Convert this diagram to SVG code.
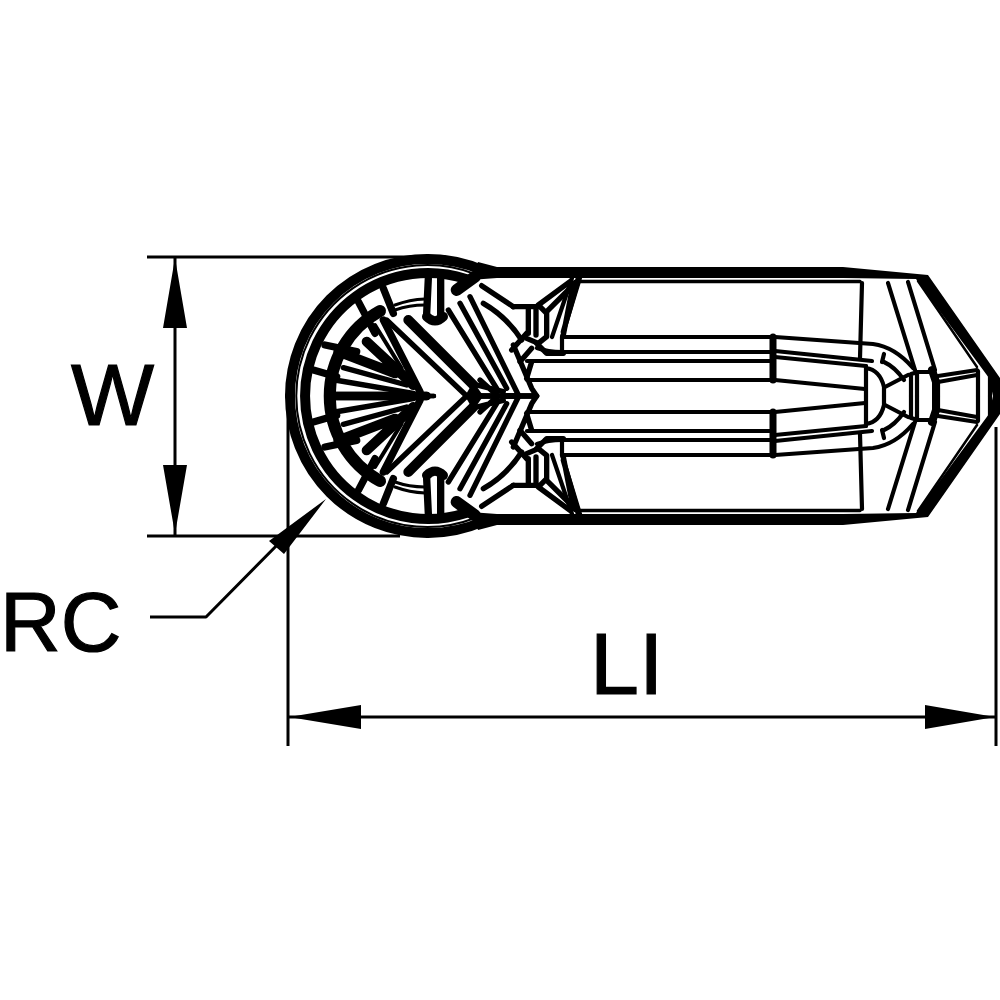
<svg xmlns="http://www.w3.org/2000/svg" xmlns:xlink="http://www.w3.org/1999/xlink" width="1000" height="1000" viewBox="0 0 1000 1000">
<style>
.k{fill:none;stroke:#000;stroke-linecap:round;stroke-linejoin:round}
.f{fill:#000;stroke:none}
text{font-family:"Liberation Sans",Arial,sans-serif;font-size:88px;fill:#000;stroke:#000;stroke-width:1.200px}
</style>
<rect width="1000" height="1000" fill="#fff"/>
<defs>
<g id="half">
 <path class="f" d="M478 262 L497 267 L843 267 L928 275 L1000 378 L1000 396 L993 396 L989 378 L916 279 L843 278 L497 278 L470 280Z"/>
 <g class="k" stroke-width="4.200">
  <path d="M575 281.500H860" stroke-width="3.500"/>
  <path d="M918 281L977 367" stroke-width="2.500"/>
  <path d="M862 283L860 358"/>
  <path d="M888 283L915 370M908 282L935 370"/>
  <path d="M580 278L562 337M572 278L552 337"/>
  <path d="M562 337H772M545 352H772M527 361H772M527 380H772"/>
  <path d="M537 348Q548 352 562 352" />
  <path d="M562 337V352"/>
  <path d="M775 337L873 344Q895 347 913 368"/>
  <path d="M775 351L872 361M775 357L866 366"/>
  <path d="M775 380L865 389"/>
  <path d="M866 368Q880 370 884 387V396M866 366V396"/>
  <path d="M884 362Q895 367 904 380" />
  <path d="M884 354L882 362"/>
  <path d="M885 387L908 375"/>
  <path d="M911 374L918 372H934L938 382V396M911 374V396M917 374V396"/>
  <path d="M938 376L977 370M938 382L977 375"/>
  <path d="M978 371V396M990 372V396"/>
 </g>
 <path class="k" stroke-width="8" d="M932 370L936 382V396"/>
 <path class="k" stroke-width="7" d="M773 337V380"/>
 <g transform="translate(280 245) scale(.33333)">
  <g class="k" stroke-width="16">
   <path d="M505 195L650 430M540 175L680 430M570 155L715 450"/>
   <path d="M610 175Q680 215 725 285M605 122L700 185"/>
   <path d="M700 185H780L800 205V275L775 295L740 280"/>
   <path d="M745 185V265M768 185V270M775 180L870 110M800 200L880 120"/>
   <path d="M770 295L800 325Q820 325 850 325M695 315L740 265M720 350L755 310"/>
   <path d="M880 115L850 270M895 100L850 260"/>
   <path d="M700 300L755 430L770 453H680M755 350L740 400"/>
   <path d="M320 225L560 453H715"/>
   <path d="M590 420L670 440M600 405L650 450"/>
  </g>
  <path class="k" stroke-width="30" d="M385 225L580 420"/>
  <path class="k" stroke-width="22" d="M310 225L420 440"/>
  <path class="k" stroke-width="12" d="M285 240L365 370"/>
  <path class="k" stroke-width="30" d="M260 290L400 420M175 320L345 385"/>
  <path class="k" stroke-width="16" d="M190 368L380 420M165 405L400 445"/>
  <path class="k" stroke-width="26" d="M165 453H440"/>
  <path class="k" stroke-width="13" d="M430 453H462"/>
  <path class="f" d="M555 453L580 410L610 453Z"/>
  <g class="k" stroke-width="22">
   <path d="M445 100L440 205M482 100L482 210M235 170L285 265M310 130L340 205M135 300L230 320M100 375L170 395"/>
  </g>
  <path class="k" stroke-width="28" d="M440 215Q465 240 490 215"/>
  <path class="k" stroke-width="36" d="M530 135L585 95"/>
 </g>
</g>
</defs>
<g id="rings" class="k">
 <path stroke-width="10" d="M290 396A137 137 0 0 1 427 259A137 137 0 0 1 482 270"/>
 <path stroke-width="10" d="M290 396A137 137 0 0 0 427 533A137 137 0 0 0 482 522"/>
 <path stroke-width="2" d="M475 274A131 131 0 1 0 475 518"/>
 <path stroke-width="10" d="M466 279A123 123 0 1 0 466 513"/>
 <path stroke-width="12" d="M380 311A97 97 0 0 0 380 481"/>
 <path stroke-width="3" d="M395 305A96 96 0 0 1 425 299M395 310A90 90 0 0 1 425 305M395 487A96 96 0 0 0 425 493M395 482A90 90 0 0 0 425 487"/>
</g>
<g id="part"><use href="#half" xlink:href="#half"/><use href="#half" xlink:href="#half" transform="matrix(1 0 0 -1 0 792)"/></g>
<g id="connectors">
 <g class="k" stroke-width="3" style="stroke-linecap:butt">
  <path d="M147 257H420M147 536H400M175 257V535M288 400V746M996 427V746M288 717H996M150 617H206L290 532"/>
 </g>
 <path class="f" d="M175 258L163 328H187ZM175 534L163 465H187ZM289 717L361 705V729ZM995 717L925 705V729ZM326 499L269 541L284 554Z"/>
</g>
<text x="71" y="425">W</text>
<text x="0" y="651" style="font-size:84px">RC</text>
<text x="590" y="694">LI</text>
</svg>
